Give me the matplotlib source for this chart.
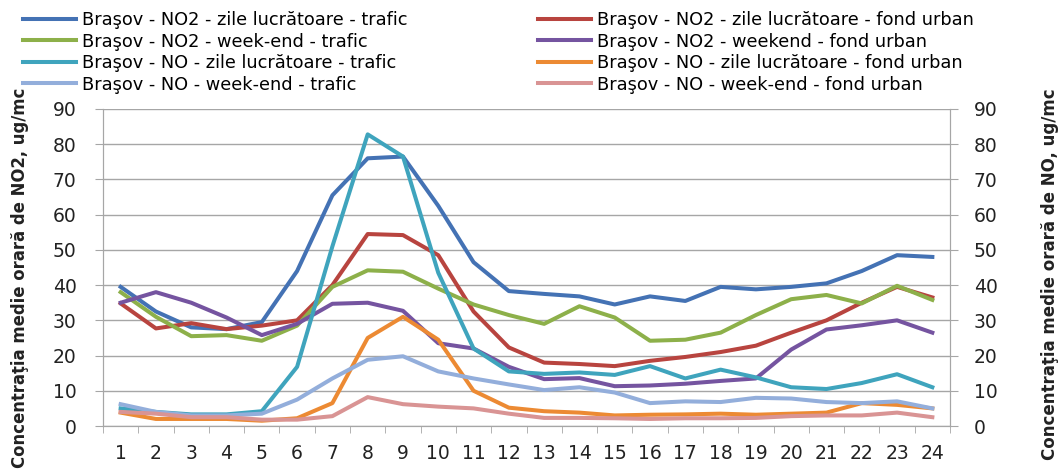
import matplotlib
matplotlib.use("Agg")
import matplotlib.pyplot as plt
from matplotlib.ticker import MultipleLocator, FixedLocator

hours = list(range(1, 25))

no2_work_traffic = [39.5, 32.5, 28, 27.5, 29.5, 44, 65.5, 76, 76.5, 62.5, 46.5, 38.3,
                    37.5, 36.8, 34.5, 36.8, 35.5, 39.5, 38.8, 39.5, 40.5, 44, 48.5, 48]
no2_work_urban = [34.8, 27.7, 29.2, 27.5, 28.5, 30, 40, 54.5, 54.2, 48.5, 32.5, 22.3,
                  18, 17.6, 17, 18.5, 19.6, 21, 22.8, 26.5, 30, 35, 39.5, 36.5]
no2_wend_traffic = [38, 31, 25.5, 25.8, 24.2, 28.5, 39.5, 44.2, 43.8, 39, 34.5, 31.5,
                    29, 34, 30.8, 24.2, 24.5, 26.5, 31.5, 36, 37.2, 34.8, 39.8, 35.8]
no2_wend_urban = [35, 38, 35, 30.8, 25.8, 29, 34.7, 35, 32.7, 23.5, 22, 16.8,
                  13.3, 13.6, 11.3, 11.5, 12, 12.8, 13.5, 21.7, 27.4, 28.6, 30, 26.5]
no_work_traffic = [5, 4, 3.3, 3.3, 4.2, 16.8, 51, 82.8, 76.5, 43.5, 22, 15.5,
                   14.8, 15.2, 14.5, 17, 13.5, 16, 13.8, 11, 10.5, 12.2, 14.7, 11]
no_work_urban = [3.8, 2, 2, 2, 1.5, 2.2, 6.5, 25, 31, 24.5, 10, 5.2,
                 4.2, 3.8, 3, 3.2, 3.3, 3.5, 3.2, 3.5, 3.8, 6.5, 6, 5]
no_wend_traffic = [6.2, 4, 3, 3, 3.5, 7.5, 13.5, 18.8, 19.8, 15.5, 13.5, 11.8,
                   10.2, 11, 9.5, 6.5, 7, 6.8, 8, 7.8, 6.8, 6.5, 7, 5]
no_wend_urban = [4, 3.5, 2.5, 2.5, 1.8, 1.8, 2.8, 8.2, 6.2, 5.5, 5, 3.5,
                 2.3, 2.3, 2.2, 2, 2.2, 2.2, 2.3, 2.8, 3, 3, 3.8, 2.5]

labels = [
    "Braşov - NO2 - zile lucrătoare - trafic",
    "Braşov - NO2 - zile lucrătoare - fond urban",
    "Braşov - NO2 - week-end - trafic",
    "Braşov - NO2 - weekend - fond urban",
    "Braşov - NO - zile lucrătoare - trafic",
    "Braşov - NO - zile lucrătoare - fond urban",
    "Braşov - NO - week-end - trafic",
    "Braşov - NO - week-end - fond urban",
]
colors = ["#4472B4", "#B8443F", "#8DB04A", "#7554A0",
          "#3FA4BD", "#EC8A33", "#93AEDB", "#D99494"]

plt.rcParams['font.family'] = ['DejaVu Sans']

fig = plt.figure(figsize=(10.62, 4.72), dpi=100)
ax = fig.add_axes([103/1062, 1-426/472, (950-103)/1062, (426-109)/472])
ax2 = ax.twinx()

lw = 2.9
no2_series = [no2_work_traffic, no2_work_urban, no2_wend_traffic, no2_wend_urban]
no_series = [no_work_traffic, no_work_urban, no_wend_traffic, no_wend_urban]
handles = []
for i, s in enumerate(no2_series):
    h, = ax.plot(hours, s, color=colors[i], lw=lw, label=labels[i], solid_joinstyle='round')
    handles.append(h)
for i, s in enumerate(no_series):
    h, = ax2.plot(hours, s, color=colors[4+i], lw=lw, label=labels[4+i], solid_joinstyle='round')
    handles.append(h)

grid_c = "#A6A6A6"
tick_c = "#222222"
for a in (ax, ax2):
    a.set_ylim(0, 90)
    a.set_xlim(0.5, 24.5)
    a.yaxis.set_major_locator(MultipleLocator(10))
    for sp in a.spines.values():
        sp.set_color(grid_c)
    a.spines['top'].set_visible(False)
ax.set_zorder(1)
ax.patch.set_visible(False)
ax2.set_zorder(2)
ax2.patch.set_visible(False)

ax.grid(axis='y', color=grid_c, lw=1.0)
ax.set_axisbelow(True)
ax.set_xticks(hours)
ax.set_xticklabels([str(h) for h in hours])
ax.xaxis.set_minor_locator(FixedLocator([h + 0.5 for h in range(0, 25)]))
ax.tick_params(axis='x', which='major', length=0, labelsize=13.5, labelcolor=tick_c, pad=13)
ax.tick_params(axis='x', which='minor', length=5, color=grid_c, direction='out')
ax.tick_params(axis='y', length=6, color=grid_c, labelsize=13.5, labelcolor=tick_c, pad=13)
ax2.tick_params(axis='y', length=6, color=grid_c, labelsize=13.5, labelcolor=tick_c, pad=11)
ax2.tick_params(axis='x', which='both', length=0)

# axis titles: fit their length to the span seen in the reference (y=88..468 px)
renderer = fig.canvas.get_renderer()
for xpos, txt in [(20, "Concentraţia medie orară de NO2, ug/mc"),
                  (1050, "Concentraţia medie orară de NO, ug/mc")]:
    t = fig.text(xpos/1062, 1-88/472, txt, rotation=90,
                 ha='center', va='top', fontsize=13, fontweight='bold', color=tick_c)
    h = t.get_window_extent(renderer).height
    t.set_fontsize(13 * 378 / h if xpos == 20 else 13 * 370 / h)

col1 = [handles[0], handles[2], handles[4], handles[6]]
col2 = [handles[1], handles[3], handles[5], handles[7]]
leg_kw = dict(frameon=False, fontsize=12.8, handlelength=3.0, handletextpad=0.3,
              labelspacing=0.2, borderpad=0, borderaxespad=0, loc='upper left')
fig.legend(handles=col1, labels=[h.get_label() for h in col1],
           bbox_to_anchor=(23/1062, 1-11/472), **leg_kw)
fig.legend(handles=col2, labels=[h.get_label() for h in col2],
           bbox_to_anchor=(538/1062, 1-11/472), **leg_kw)

fig.savefig("out.png", dpi=100)
